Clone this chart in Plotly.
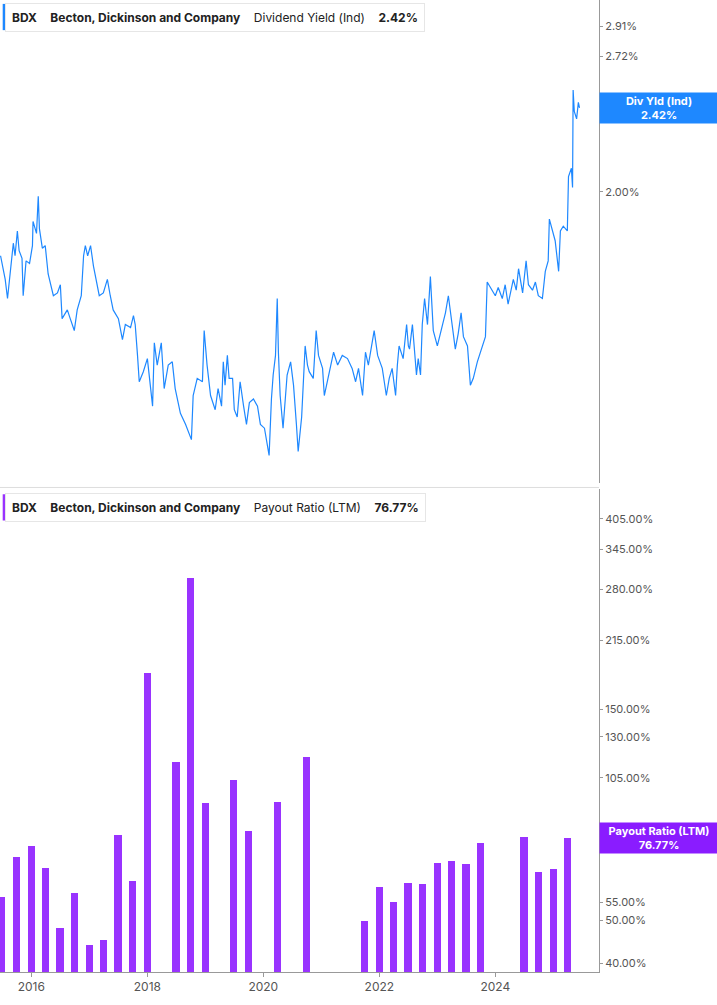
import datetime as dt

import plotly.graph_objects as go
from plotly.subplots import make_subplots

# dividend yield (Ind), %, dates as decimal years
yield_years = [
    2015.47, 2015.51, 2015.55, 2015.59, 2015.64, 2015.69, 2015.72, 2015.76, 2015.79, 2015.84,
    2015.86, 2015.91, 2015.97, 2016.02, 2016.03, 2016.09, 2016.12, 2016.14, 2016.19, 2016.24,
    2016.29, 2016.38, 2016.45, 2016.50, 2016.53, 2016.62, 2016.67, 2016.74, 2016.79, 2016.86,
    2016.90, 2016.93, 2016.97, 2017.02, 2017.07, 2017.12, 2017.17, 2017.24, 2017.31, 2017.36,
    2017.41, 2017.50, 2017.57, 2017.62, 2017.71, 2017.76, 2017.79, 2017.83, 2017.86, 2017.93,
    2018.00, 2018.09, 2018.12, 2018.17, 2018.24, 2018.29, 2018.36, 2018.43, 2018.48, 2018.57,
    2018.66, 2018.76, 2018.79, 2018.86, 2018.95, 2018.98, 2019.03, 2019.09, 2019.17, 2019.22,
    2019.28, 2019.31, 2019.34, 2019.38, 2019.41, 2019.47, 2019.50, 2019.55, 2019.60, 2019.66,
    2019.71, 2019.76, 2019.83, 2019.90, 2019.95, 2020.02, 2020.10, 2020.14, 2020.17, 2020.21,
    2020.24, 2020.26, 2020.29, 2020.34, 2020.41, 2020.47, 2020.52, 2020.57, 2020.60, 2020.66,
    2020.69, 2020.72, 2020.76, 2020.79, 2020.86, 2020.91, 2020.95, 2021.02, 2021.05, 2021.10,
    2021.16, 2021.21, 2021.28, 2021.36, 2021.45, 2021.53, 2021.59, 2021.64, 2021.71, 2021.76,
    2021.81, 2021.88, 2021.91, 2021.97, 2022.05, 2022.12, 2022.17, 2022.22, 2022.28, 2022.31,
    2022.34, 2022.41, 2022.47, 2022.50, 2022.52, 2022.57, 2022.59, 2022.64, 2022.67, 2022.71,
    2022.74, 2022.78, 2022.83, 2022.88, 2022.93, 2023.00, 2023.09, 2023.14, 2023.19, 2023.26,
    2023.31, 2023.36, 2023.41, 2023.45, 2023.52, 2023.57, 2023.62, 2023.69, 2023.78, 2023.83,
    2023.86, 2023.91, 2024.00, 2024.05, 2024.12, 2024.17, 2024.22, 2024.31, 2024.36, 2024.40,
    2024.47, 2024.53, 2024.57, 2024.64, 2024.69, 2024.74, 2024.81, 2024.86, 2024.91, 2024.93,
    2024.98, 2025.03, 2025.09, 2025.12, 2025.17, 2025.24, 2025.26, 2025.31, 2025.33, 2025.34,
    2025.36, 2025.40, 2025.43, 2025.45,
]
yield_pct = [
    1.73, 1.69, 1.64, 1.57, 1.68, 1.78, 1.73, 1.83, 1.75, 1.72,
    1.58, 1.71, 1.70, 1.77, 1.87, 1.82, 1.98, 1.84, 1.76, 1.77,
    1.66, 1.58, 1.59, 1.62, 1.50, 1.53, 1.50, 1.46, 1.53, 1.58,
    1.73, 1.77, 1.73, 1.77, 1.69, 1.63, 1.58, 1.59, 1.64, 1.58,
    1.53, 1.50, 1.43, 1.48, 1.47, 1.51, 1.48, 1.38, 1.30, 1.33,
    1.37, 1.23, 1.42, 1.35, 1.42, 1.28, 1.35, 1.36, 1.28, 1.21,
    1.18, 1.14, 1.26, 1.31, 1.30, 1.46, 1.35, 1.26, 1.22, 1.28,
    1.23, 1.36, 1.29, 1.38, 1.31, 1.31, 1.22, 1.20, 1.30, 1.23,
    1.18, 1.24, 1.25, 1.23, 1.18, 1.17, 1.10, 1.25, 1.32, 1.38,
    1.57, 1.39, 1.26, 1.17, 1.32, 1.36, 1.29, 1.18, 1.11, 1.20,
    1.33, 1.41, 1.35, 1.33, 1.31, 1.46, 1.38, 1.34, 1.26, 1.30,
    1.34, 1.39, 1.35, 1.38, 1.37, 1.34, 1.30, 1.34, 1.26, 1.39,
    1.35, 1.43, 1.46, 1.38, 1.34, 1.26, 1.31, 1.34, 1.26, 1.35,
    1.41, 1.37, 1.48, 1.41, 1.40, 1.48, 1.43, 1.32, 1.37, 1.32,
    1.48, 1.57, 1.48, 1.65, 1.46, 1.41, 1.48, 1.52, 1.58, 1.48,
    1.40, 1.45, 1.52, 1.44, 1.41, 1.29, 1.31, 1.36, 1.41, 1.44,
    1.63, 1.61, 1.58, 1.61, 1.57, 1.62, 1.55, 1.64, 1.60, 1.68,
    1.59, 1.71, 1.62, 1.60, 1.63, 1.58, 1.57, 1.67, 1.71, 1.88,
    1.83, 1.79, 1.67, 1.83, 1.85, 1.83, 2.07, 2.11, 2.02, 2.52,
    2.40, 2.36, 2.45, 2.42,
]

# payout ratio (LTM), % -- quarterly, None where no bar is drawn
payout_quarters = [
    "2015-06-30", "2015-09-30", "2015-12-31", "2016-03-31", "2016-06-30", "2016-09-30",
    "2016-12-31", "2017-03-31", "2017-06-30", "2017-09-30", "2017-12-31", "2018-03-31",
    "2018-06-30", "2018-09-30", "2018-12-31", "2019-03-31", "2019-06-30", "2019-09-30",
    "2019-12-31", "2020-03-31", "2020-06-30", "2020-09-30", "2020-12-31", "2021-03-31",
    "2021-06-30", "2021-09-30", "2021-12-31", "2022-03-31", "2022-06-30", "2022-09-30",
    "2022-12-31", "2023-03-31", "2023-06-30", "2023-09-30", "2023-12-31", "2024-03-31",
    "2024-06-30", "2024-09-30", "2024-12-31", "2025-03-31",
]
payout_pct = [
    56.4, 69.5, 73.5, 65.6, 48.0, 57.6, 43.9, 45.1, 77.9, 61.3,
    181.0, None, 114.0, 297.0, 92.0, None, 104.0, 79.7, None, 92.6,
    None, 117.0, None, None, None, 49.8, 59.4, 55.0, 60.7, 60.5,
    67.6, 68.0, 67.0, 74.7, None, None, 77.2, 64.2, 65.3, 76.77,
]

yield_ticks = [2.00, 2.72, 2.91]
payout_ticks = [40, 50, 55, 105, 130, 150, 215, 280, 345, 405]
year_ticks = ["2016-01-01", "2018-01-01", "2020-01-01", "2022-01-01", "2024-01-01"]
year_labels = ["2016", "2018", "2020", "2022", "2024"]


def to_date(y):
    year = int(y)
    start = dt.datetime(year, 1, 1)
    return start + (dt.datetime(year + 1, 1, 1) - start) * (y - year)


BLUE = "#1e88ff"
PURPLE = "#9933ff"
GRID = "#999999"
FONT = "Inter"

fig = make_subplots(rows=2, cols=1, shared_xaxes=True, vertical_spacing=0.006)

fig.add_trace(go.Scatter(
    x=[to_date(y) for y in yield_years], y=yield_pct, mode="lines",
    line=dict(color=BLUE, width=1.2), showlegend=False,
), row=1, col=1)

fig.add_trace(go.Bar(
    x=payout_quarters, y=payout_pct, width=45 * 86400000,
    marker=dict(color=PURPLE, line=dict(width=0)), showlegend=False,
), row=2, col=1)

axis_font = dict(family=FONT, size=11, color="#555555")
fig.update_yaxes(
    type="log", side="right", showgrid=False, zeroline=False,
    showline=True, linecolor=GRID, linewidth=1,
    ticks="outside", ticklen=3, tickcolor=GRID, tickfont=axis_font,
)
fig.update_yaxes(range=[0.0141, 0.490], tickvals=yield_ticks,
                 ticktext=[f"{v:.2f}%" for v in yield_ticks], row=1, col=1)
fig.update_yaxes(range=[1.582, 2.675], tickvals=payout_ticks,
                 ticktext=[f"{v:.2f}%" for v in payout_ticks], row=2, col=1)
fig.update_xaxes(
    range=["2015-06-18", "2025-10-15"], showgrid=False, zeroline=False,
    tickvals=year_ticks, ticktext=year_labels,
)
fig.update_xaxes(showline=False, showticklabels=False, row=1, col=1)
fig.update_xaxes(showline=True, linecolor=GRID, linewidth=1, ticks="outside",
                 ticklen=4, tickcolor=GRID,
                 tickfont=dict(family=FONT, size=12, color="#555555"), row=2, col=1)

# separator between panels
fig.add_shape(type="line", xref="paper", yref="paper", x0=0, x1=1, y0=0.4985, y1=0.4985,
              line=dict(color="#dddddd", width=1))

# header boxes
header_text = [
    ("<b>BDX</b>    <b>Becton, Dickinson and Company</b>    Dividend Yield (Ind)    <b>2.42%</b>", BLUE, 1.0),
    ("<b>BDX</b>    <b>Becton, Dickinson and Company</b>    Payout Ratio (LTM)    <b>76.77%</b>", PURPLE, 0.4955),
]
for text, colour, ypos in header_text:
    fig.add_annotation(
        xref="paper", yref="paper", x=0.008, y=ypos - 0.003, xanchor="left", yanchor="top",
        text=text, showarrow=False, align="left",
        font=dict(family=FONT, size=12, color="#222222"),
        bgcolor="white", bordercolor="#e6e6e6", borderwidth=1, borderpad=6,
    )
    fig.add_shape(type="rect", xref="paper", yref="paper",
                  x0=0.0045, x1=0.0085, y0=ypos - 0.031, y1=ypos - 0.004,
                  fillcolor=colour, line=dict(width=0))

# last-value tags on the right axis
fig.add_annotation(xref="paper", yref="y", x=1.0, y=0.3838, xanchor="left", yanchor="middle",
                   text="<b>Div Yld (Ind)<br>2.42%</b>", showarrow=False, width=114, height=26,
                   font=dict(family=FONT, size=11, color="white"), bgcolor=BLUE,
                   borderpad=2)
fig.add_annotation(xref="paper", yref="y2", x=1.0, y=1.8852, xanchor="left", yanchor="middle",
                   text="<b>Payout Ratio (LTM)<br>76.77%</b>", showarrow=False, width=114, height=26,
                   font=dict(family=FONT, size=11, color="white"), bgcolor="#8a1cff",
                   borderpad=2)

fig.update_layout(
    width=717, height=1005, bargap=0,
    margin=dict(l=0, r=118, t=0, b=33),
    paper_bgcolor="white", plot_bgcolor="white",
    font=dict(family=FONT),
)

fig.write_html("out.html", config={"displayModeBar": False},
               post_script="document.body.style.margin='0';")
